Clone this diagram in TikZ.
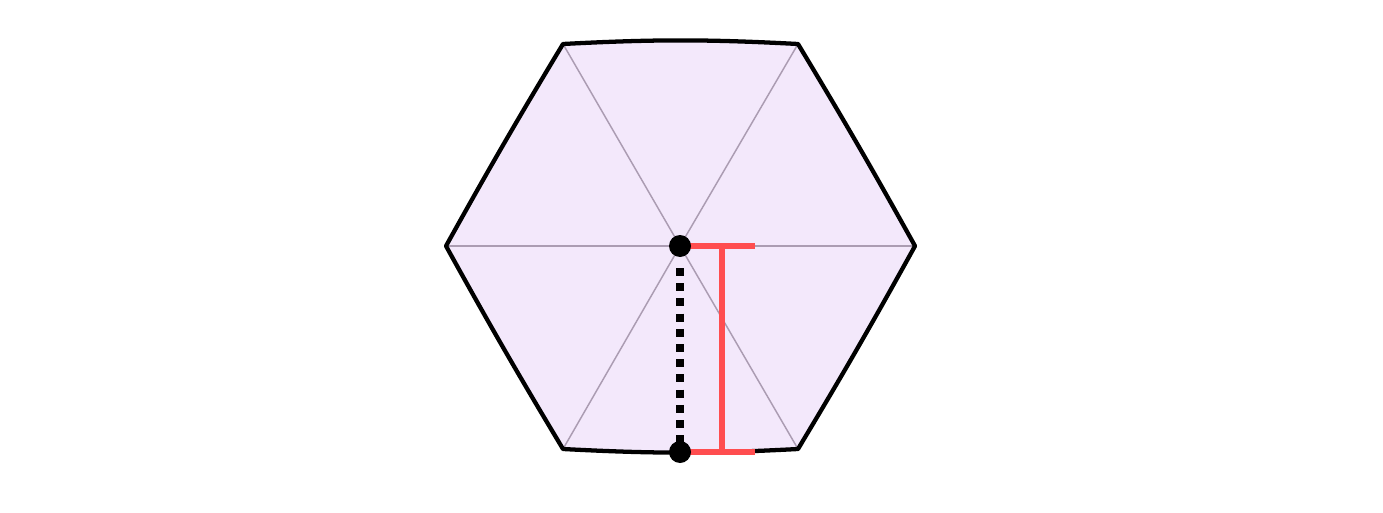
\documentclass[tikz,border=0pt]{standalone}
\usetikzlibrary{calc}
\definecolor{hexfill}{HTML}{F3E8FB}
\definecolor{spoke}{HTML}{AB9CB2}
\definecolor{redbar}{HTML}{FF4D4F}
\tikzset{
  hexedge/.style={draw=black, line width=3.2pt, line join=round},
  spokeline/.style={draw=spoke, line width=1.1pt},
  redline/.style={draw=redbar, line width=5.2pt},
  dotline/.style={draw=black, line width=6pt, dash pattern=on 6pt off 5.4pt},
  dotnode/.style={circle, fill=black, inner sep=0pt, minimum size=16.5pt}
}
\begin{document}
\begin{tikzpicture}[x=0.75pt, y=-0.75pt]
\useasboundingbox (0,0) rectangle (1383,513);
\coordinate (C) at (680,246);
\coordinate (TL) at (563,44);
\coordinate (TR) at (798,44);
\coordinate (R) at (915,246);
\coordinate (BR) at (798,449);
\coordinate (BL) at (563,449);
\coordinate (L) at (446,246);
\def\hexpath{(TL) to[bend left=3] (TR) to[bend left=1] (R) to[bend left=1] (BR) to[bend left=3] (BL) to[bend left=1] (L) to[bend left=1] (TL) -- cycle}
\fill[hexfill] \hexpath;
\foreach \v in {TL,TR,R,BR,BL,L} \draw[spokeline] (C) -- (\v);
\draw[hexedge] \hexpath;
\coordinate (B) at (680,452);
\draw[dotline] (680,268) -- (680,446);
\coordinate (RT1) at (755,246);
\coordinate (RB1) at (755,452);
\coordinate (VT) at (722,246);
\coordinate (VB) at (722,452);
\draw[redline] (C) -- (RT1);
\draw[redline] (B) -- (RB1);
\draw[redline] (VT) -- (VB);
\node[dotnode] (c) at (C) {};
\node[dotnode] (b) at (B) {};
\end{tikzpicture}
\end{document}
